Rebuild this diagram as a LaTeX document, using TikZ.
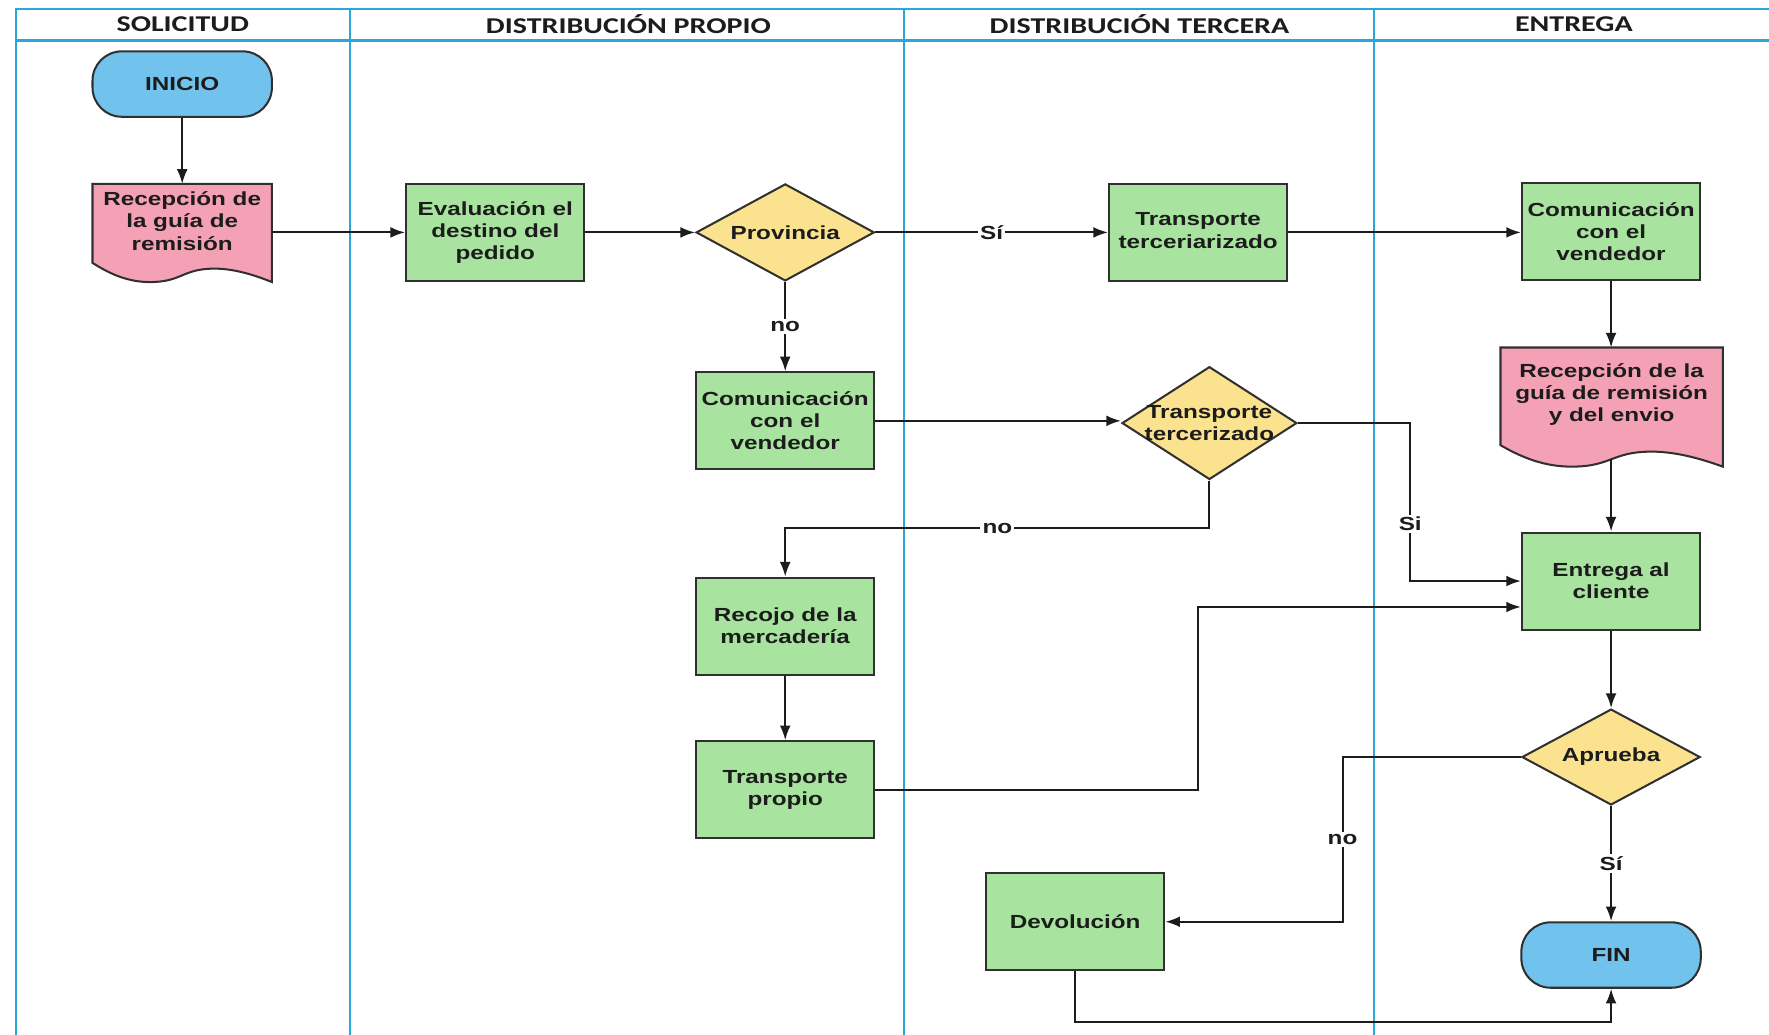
\documentclass[tikz,border=0pt]{standalone}
\usepackage{fontspec}
\usetikzlibrary{shapes.geometric,arrows.meta}
\newfontfamily\boxfont{Liberation Sans}[FakeStretch=1.28]
\newfontfamily\headfont{Carlito}[FakeStretch=1.33]
\definecolor{lanecol}{HTML}{26A8DA}
\definecolor{termcol}{HTML}{72C2EE}
\definecolor{doccol}{HTML}{F4A1B6}
\definecolor{proccol}{HTML}{A8E4A0}
\definecolor{deccol}{HTML}{FBE28E}
\definecolor{inkcol}{HTML}{1C1C1C}
\definecolor{edgecol}{HTML}{303030}
% document symbol: left x, right x, top y, lowest y of the wavy edge, rise of the left corner
\newcommand\docoutline[5]{%
  \filldraw[docpaint] (#1,#3) -- (#2,#3) -- (#2,#4)
   .. controls ({#2-0.08*(#2-#1)},{#4-0.3*#5}) and ({#1+0.8*(#2-#1)},{#4-0.7*#5}) .. ({#1+0.68*(#2-#1)},{#4-0.7*#5})
   .. controls ({#1+0.5*(#2-#1)},{#4-0.7*#5}) and ({#1+0.5*(#2-#1)},#4) .. ({#1+0.32*(#2-#1)},#4)
   .. controls ({#1+0.2*(#2-#1)},#4) and ({#1+0.1*(#2-#1)},{#4-0.4*#5}) .. (#1,{#4-#5}) -- cycle;}
\begin{document}
\begin{tikzpicture}[x=0.5pt,y=-0.5pt,
  lane/.style={draw=lanecol,line width=1pt},
  head/.style={font=\headfont\bfseries\fontsize{10}{12}\selectfont,text=inkcol},
  txt/.style={font=\boxfont\bfseries\fontsize{8.4}{9.8}\selectfont,text=inkcol,align=center},
  proc/.style={txt,draw=edgecol,line width=0.9pt,fill=proccol,minimum width=79pt,minimum height=43pt,inner sep=0pt},
  term/.style={txt,draw=edgecol,line width=0.9pt,fill=termcol,rounded corners=13pt,minimum width=79.5pt,minimum height=29pt,inner sep=0pt},
  dec/.style={draw=edgecol,line width=0.9pt,fill=deccol,diamond,inner sep=0pt},
  docbox/.style={txt,inner sep=0pt},
  docpaint/.style={draw=edgecol,line width=0.9pt,fill=doccol},
  flow/.style={draw=inkcol,line width=0.9pt,-{Latex[length=6.5pt,width=4.8pt]}},
  cond/.style={txt,fill=white,inner sep=1pt}
]
\fill[white] (0,0) rectangle (1568,917);
\useasboundingbox (0,0) rectangle (1568,917);

% swimlanes
\draw[lane] (1568,8) -- (14,8) -- (14,917);
\draw[lane] (14,36) -- (1568,36);
\draw[lane] (310,8) -- (310,917);
\draw[lane] (801,8) -- (801,917);
\draw[lane] (1218,8) -- (1218,917);
\node[head] (hSol) at (162,21) {SOLICITUD};
\node[head] (hPro) at (557,21) {DISTRIBUCIÓN PROPIO};
\node[head] (hTer) at (1010,21) {DISTRIBUCIÓN TERCERA};
\node[head] (hEnt) at (1395,21) {ENTREGA};

% document symbols
\docoutline{82}{241}{163}{250}{17}
\docoutline{1330}{1527}{308}{413.6}{19}

% nodes
\node[term] (ini) at (161.5,74.5) {INICIO};
\node[docbox] (docA) at (161.5,196) {Recepción de\\la guía de\\remisión};
\coordinate (docAtop) at (161.5,163);
\node[proc] (eval) at (439,206) {Evaluación el\\destino del\\pedido};
\node[dec,minimum width=79pt,minimum height=43pt,label=center:{\tikz[baseline]\node[txt,inner sep=0pt]{Provincia};}] (prov) at (696,206) {};
\node[proc] (tter) at (1062,206) {Transporte\\terceriarizado\vphantom{p}};
\node[proc] (comE) at (1428,205) {Comunicación\\con el\\vendedor};
\node[docbox] (docB) at (1428.5,349.5) {Recepción de la\\guía de remisión\\y del envio};
\coordinate (docBtop) at (1428,308);
\coordinate (docBout) at (1428,407);
\node[proc] (comP) at (696,373) {Comunicación\\con el\\vendedor};
\node[dec,minimum width=77.5pt,minimum height=50pt,label=center:{\tikz[baseline]\node[txt,inner sep=0pt]{Transporte\\tercerizado};}] (ttz) at (1072,375) {};
\node[proc] (entr) at (1428,515) {Entrega al\\cliente};
\node[proc] (reco) at (696,555) {Recojo de la\\mercadería};
\node[proc] (tpro) at (696,700) {Transporte\\propio};
\node[dec,minimum width=79pt,minimum height=42.5pt,label=center:{\tikz[baseline]\node[txt,inner sep=0pt]{Aprueba};}] (apr) at (1428,671) {};
\node[proc] (devo) at (953,817) {Devolución};
\node[term] (fin) at (1428,846.5) {FIN};

% bend points of the routed connectors
\coordinate (jSi) at (1250,0);
\coordinate (jNo) at (0,468);
\coordinate (jPro) at (1062,0);
\coordinate (entrIn) at ([yshift=-11.5pt]entr.west);
\coordinate (jRet) at (1190,0);
\coordinate (jBot) at (0,906);

% connectors
\draw[flow] (ini.south) -- (docAtop);
\draw[flow] (eval.west -| 241,0) -- (eval.west);
\draw[flow] (eval.east) -- (prov.west);
\draw[flow] (prov.east) -- node[cond]{Sí} (tter.west);
\draw[flow] (tter.east) -- (comE.west |- tter.east);
\draw[flow] (prov.south) -- node[cond]{no} (comP.north);
\draw[flow] (comE.south) -- (docBtop);
\draw[flow] (docBout) -- (entr.north);
\draw[flow] (comP.east) -- (comP.east -| ttz.west);
\draw[flow] (ttz.east) -- (ttz.east -| jSi) -- node[cond,pos=0.64]{Si} (jSi |- entr.west) -- (entr.west);
\draw[flow] (ttz.south) -- (ttz.south |- jNo) -- node[cond]{no} (reco.north |- jNo) -- (reco.north);
\draw[flow] (reco.south) -- (tpro.north);
\draw[flow] (tpro.east) -- (tpro.east -| jPro) -- (jPro |- entrIn) -- (entrIn);
\draw[flow] (entr.south) -- (apr.north);
\draw[flow] (apr.west) -- (apr.west -| jRet) -- node[cond]{no} (jRet |- devo.east) -- (devo.east);
\draw[flow] (apr.south) -- node[cond]{Sí} (fin.north);
\draw[flow] (devo.south) -- (devo.south |- jBot) -- (fin.south |- jBot) -- (fin.south);
\end{tikzpicture}
\end{document}
